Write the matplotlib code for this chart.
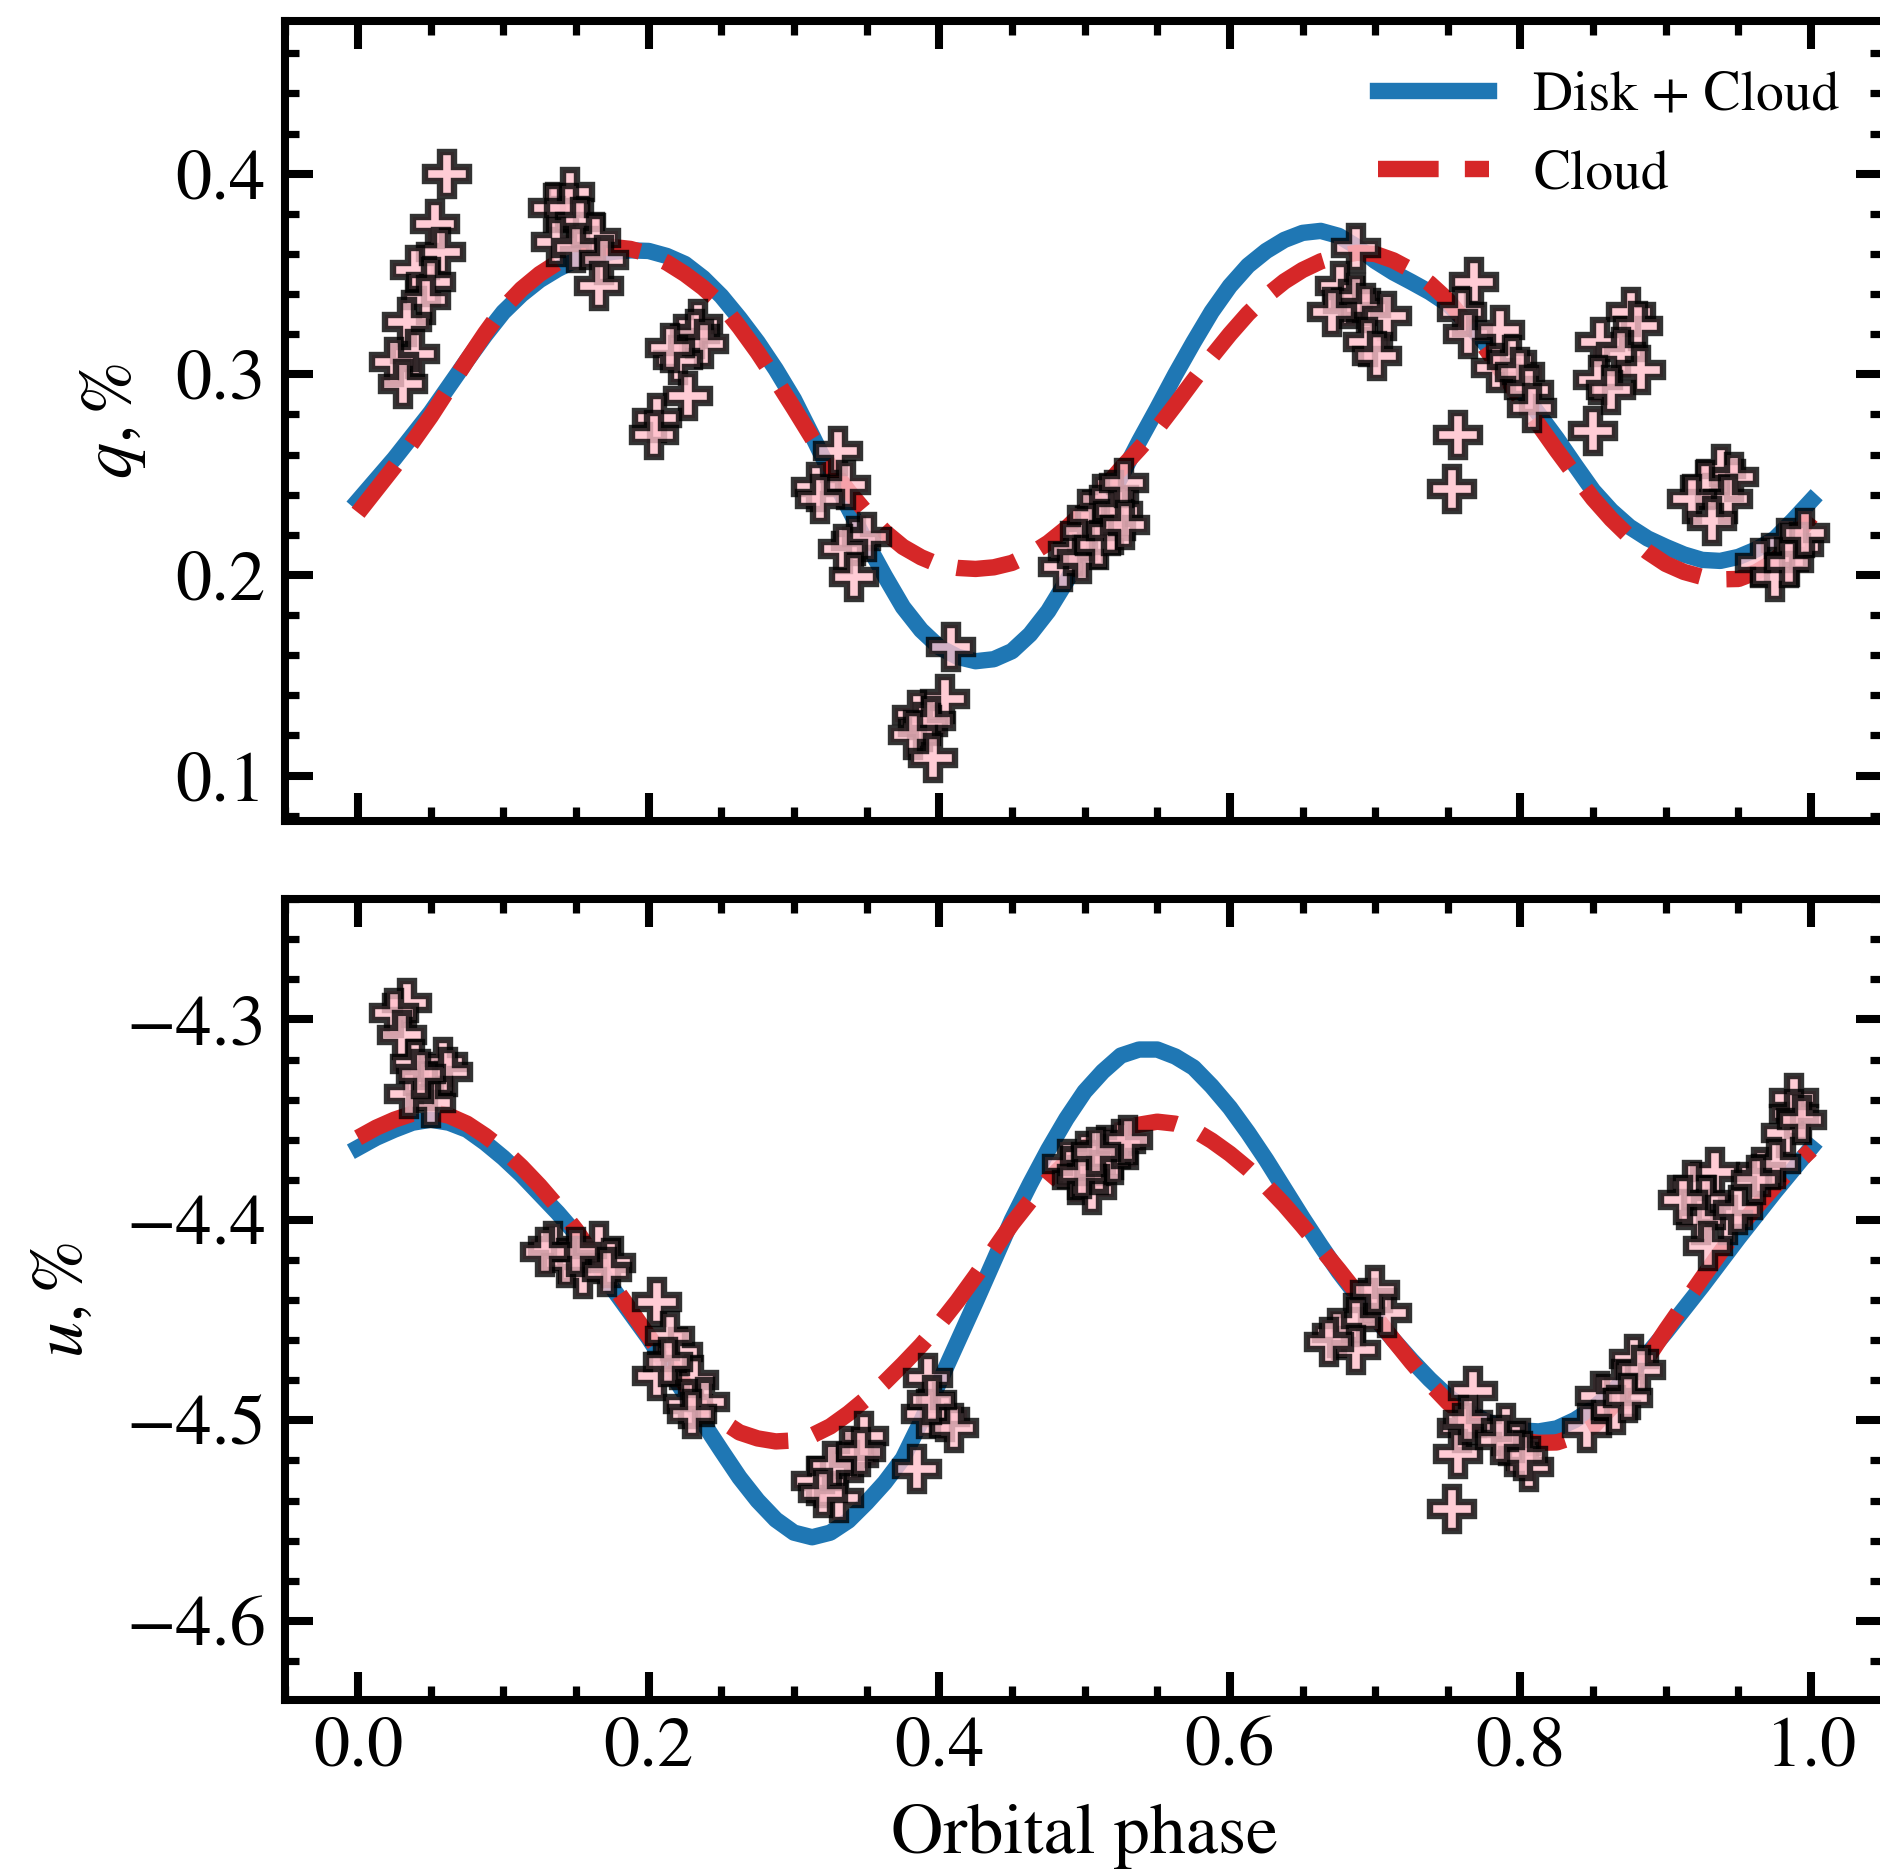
import matplotlib
matplotlib.use("Agg")
import matplotlib.pyplot as plt
from matplotlib.ticker import MultipleLocator

plt.rcParams['font.family'] = ['STIXGeneral', 'DejaVu Serif']
plt.rcParams['mathtext.fontset'] = 'stix'

# ---------------- data ----------------
model_phase = [0.0, 0.0125, 0.025, 0.0375, 0.05, 0.0625, 0.075, 0.0875, 0.1, 0.1125,
               0.125, 0.1375, 0.15, 0.1625, 0.175, 0.1875, 0.2, 0.2125, 0.225, 0.2375,
               0.25, 0.2625, 0.275, 0.2875, 0.3, 0.3125, 0.325, 0.3375, 0.35, 0.3625,
               0.375, 0.3875, 0.4, 0.4125, 0.425, 0.4375, 0.45, 0.4625, 0.475, 0.4875,
               0.5, 0.5125, 0.525, 0.5375, 0.55, 0.5625, 0.575, 0.5875, 0.6, 0.6125,
               0.625, 0.6375, 0.65, 0.6625, 0.675, 0.6875, 0.7, 0.7125, 0.725, 0.7375,
               0.75, 0.7625, 0.775, 0.7875, 0.8, 0.8125, 0.825, 0.8375, 0.85, 0.8625,
               0.875, 0.8875, 0.9, 0.9125, 0.925, 0.9375, 0.95, 0.9625, 0.975, 0.9875, 1.0]

q_disk_cloud = [0.237, 0.2475, 0.258, 0.2695, 0.281, 0.294, 0.307, 0.3195, 0.331, 0.3398,
                0.347, 0.3525, 0.357, 0.3595, 0.361, 0.3618, 0.3615, 0.359, 0.355, 0.348,
                0.339, 0.328, 0.316, 0.3025, 0.2875, 0.2695, 0.251, 0.2333, 0.216, 0.1995,
                0.184, 0.1725, 0.164, 0.1592, 0.157, 0.158, 0.162, 0.1704, 0.182, 0.1968,
                0.213, 0.231, 0.249, 0.2665, 0.283, 0.300, 0.316, 0.3312, 0.344, 0.3542,
                0.3615, 0.367, 0.3705, 0.3715, 0.369, 0.3635, 0.3565, 0.3508, 0.346, 0.341,
                0.335, 0.3262, 0.316, 0.3042, 0.292, 0.2802, 0.268, 0.2548, 0.242, 0.232,
                0.224, 0.2182, 0.214, 0.2102, 0.2075, 0.207, 0.209, 0.2128, 0.218, 0.2272, 0.237]

q_cloud = [0.231, 0.2425, 0.254, 0.2662, 0.279, 0.293, 0.307, 0.3205, 0.333, 0.3425,
           0.350, 0.3558, 0.360, 0.3627, 0.3635, 0.3625, 0.360, 0.3557, 0.350, 0.3432,
           0.335, 0.3235, 0.311, 0.2973, 0.283, 0.2683, 0.254, 0.2418, 0.231, 0.2215,
           0.214, 0.2088, 0.205, 0.2035, 0.203, 0.2038, 0.206, 0.2103, 0.216, 0.2233,
           0.232, 0.2425, 0.253, 0.2628, 0.273, 0.2848, 0.297, 0.3088, 0.320, 0.3303,
           0.339, 0.3463, 0.352, 0.3563, 0.359, 0.3606, 0.360, 0.3568, 0.352, 0.3453,
           0.337, 0.326, 0.314, 0.301, 0.2875, 0.2748, 0.262, 0.2498, 0.238, 0.2278,
           0.219, 0.2115, 0.2055, 0.2015, 0.199, 0.1978, 0.198, 0.2015, 0.207, 0.2173, 0.229]

u_disk_cloud = [-4.364, -4.359, -4.355, -4.3515, -4.350, -4.3515, -4.355, -4.3615, -4.369, -4.3775,
                -4.387, -4.3965, -4.407, -4.420, -4.434, -4.4465, -4.459, -4.473, -4.487, -4.5012,
                -4.515, -4.5285, -4.540, -4.5495, -4.556, -4.5583, -4.556, -4.550, -4.541, -4.531,
                -4.519, -4.5005, -4.481, -4.461, -4.441, -4.4205, -4.400, -4.382, -4.365, -4.3495,
                -4.336, -4.326, -4.318, -4.315, -4.315, -4.3185, -4.324, -4.3333, -4.344, -4.3565,
                -4.370, -4.3845, -4.399, -4.4128, -4.426, -4.4378, -4.449, -4.4598, -4.470, -4.4795,
                -4.488, -4.495, -4.500, -4.5035, -4.505, -4.5055, -4.504, -4.4998, -4.494, -4.4863,
                -4.477, -4.4668, -4.456, -4.4445, -4.433, -4.421, -4.409, -4.3975, -4.386, -4.375, -4.364]

u_cloud = [-4.359, -4.354, -4.350, -4.347, -4.346, -4.348, -4.352, -4.358, -4.365, -4.3735,
           -4.383, -4.3935, -4.405, -4.4185, -4.432, -4.445, -4.458, -4.4705, -4.482, -4.4925,
           -4.500, -4.506, -4.509, -4.5105, -4.510, -4.5075, -4.503, -4.4965, -4.489, -4.481,
           -4.472, -4.4625, -4.452, -4.4405, -4.428, -4.415, -4.402, -4.3905, -4.380, -4.3712,
           -4.364, -4.359, -4.355, -4.3525, -4.351, -4.352, -4.355, -4.3605, -4.367, -4.3745,
           -4.383, -4.3925, -4.403, -4.414, -4.425, -4.4365, -4.448, -4.4598, -4.471, -4.4815,
           -4.491, -4.4985, -4.504, -4.508, -4.510, -4.5112, -4.511, -4.508, -4.503, -4.4935,
           -4.482, -4.4687, -4.455, -4.442, -4.429, -4.4163, -4.404, -4.3933, -4.383, -4.3737, -4.365]

q_obs_phase = [0.061, 0.053, 0.057, 0.039, 0.050, 0.047, 0.034, 0.039, 0.025, 0.031,
               0.146, 0.134, 0.145, 0.153, 0.136, 0.164, 0.150, 0.169, 0.166,
               0.234, 0.232, 0.238, 0.220, 0.215, 0.227, 0.206, 0.204,
               0.330, 0.315, 0.336, 0.318, 0.343, 0.350, 0.334, 0.341,
               0.408, 0.404, 0.385, 0.389, 0.394, 0.382, 0.396,
               0.485, 0.492, 0.498, 0.500, 0.505, 0.510, 0.512, 0.518, 0.520, 0.523, 0.527, 0.528,
               0.687, 0.676, 0.681, 0.687, 0.694, 0.708, 0.670, 0.695, 0.701,
               0.768, 0.760, 0.764, 0.757, 0.753,
               0.786, 0.783, 0.794, 0.800, 0.806, 0.808,
               0.876, 0.881, 0.855, 0.869, 0.883, 0.853, 0.862, 0.850,
               0.938, 0.947, 0.927, 0.943, 0.918, 0.932,
               0.983, 0.992, 0.965, 0.975, 0.985, 0.996]

q_obs = [0.400, 0.375, 0.361, 0.352, 0.346, 0.337, 0.326, 0.310, 0.306, 0.295,
         0.391, 0.383, 0.383, 0.376, 0.366, 0.368, 0.363, 0.357, 0.344,
         0.325, 0.320, 0.315, 0.307, 0.313, 0.289, 0.278, 0.270,
         0.262, 0.244, 0.245, 0.238, 0.217, 0.219, 0.213, 0.199,
         0.164, 0.138, 0.130, 0.124, 0.127, 0.120, 0.109,
         0.204, 0.212, 0.208, 0.222, 0.230, 0.215, 0.238, 0.222, 0.240, 0.232, 0.246, 0.225,
         0.363, 0.344, 0.335, 0.338, 0.333, 0.329, 0.331, 0.316, 0.309,
         0.346, 0.331, 0.320, 0.270, 0.243,
         0.322, 0.303, 0.307, 0.301, 0.292, 0.283,
         0.331, 0.324, 0.316, 0.311, 0.302, 0.297, 0.292, 0.272,
         0.253, 0.249, 0.245, 0.238, 0.238, 0.227,
         0.216, 0.214, 0.206, 0.199, 0.206, 0.221]

u_obs_phase = [0.034, 0.025, 0.030, 0.039, 0.0585, 0.062, 0.048, 0.050, 0.035, 0.043,
               0.134, 0.155, 0.166, 0.174, 0.143, 0.150, 0.171, 0.129,
               0.206, 0.220, 0.231, 0.206, 0.227, 0.239, 0.215, 0.213, 0.230,
               0.315, 0.331, 0.341, 0.348, 0.326, 0.346, 0.320,
               0.392, 0.385, 0.404, 0.391, 0.410, 0.395,
               0.488, 0.495, 0.500, 0.505, 0.510, 0.515, 0.520, 0.525, 0.530, 0.498, 0.508,
               0.695, 0.708, 0.6865, 0.674, 0.6865, 0.700, 0.668,
               0.767, 0.760, 0.757, 0.753, 0.764,
               0.790, 0.797, 0.806, 0.802, 0.786,
               0.878, 0.855, 0.869, 0.846, 0.866, 0.883, 0.874,
               0.934, 0.918, 0.943, 0.928, 0.924, 0.929, 0.912, 0.950,
               0.9885, 0.9885, 0.983, 0.9656, 0.976, 0.962, 0.994]

u_obs = [-4.292, -4.297, -4.308, -4.322, -4.321, -4.326, -4.333, -4.3415, -4.337, -4.327,
         -4.413, -4.427, -4.413, -4.4217, -4.4217, -4.416, -4.426, -4.416,
         -4.441, -4.466, -4.480, -4.478, -4.492, -4.491, -4.458, -4.471, -4.497,
         -4.530, -4.5385, -4.519, -4.508, -4.523, -4.516, -4.536,
         -4.479, -4.5245, -4.4985, -4.497, -4.504, -4.490,
         -4.372, -4.380, -4.368, -4.385, -4.375, -4.365, -4.370, -4.362, -4.360, -4.377, -4.366,
         -4.4412, -4.4466, -4.4508, -4.4563, -4.465, -4.435, -4.461,
         -4.4855, -4.504, -4.517, -4.544, -4.500,
         -4.504, -4.5126, -4.5234, -4.518, -4.510,
         -4.4693, -4.4877, -4.482, -4.504, -4.495, -4.475, -4.489,
         -4.3762, -4.3827, -4.400, -4.390, -4.400, -4.413, -4.390, -4.395,
         -4.3394, -4.347, -4.3567, -4.376, -4.372, -4.380, -4.350]

# ---------------- figure ----------------
DPI = 200
fig = plt.figure(figsize=(1880 / DPI, 1876 / DPI), dpi=DPI)
ax_q = fig.add_axes([0.1518, 0.5622, 0.8502, 0.4268])
ax_u = fig.add_axes([0.1518, 0.0938, 0.8502, 0.4270])

BLUE = '#1f77b4'
RED = '#d62728'
LW = 5.9
FS = 26

def style(ax):
    for s in ax.spines.values():
        s.set_linewidth(2.9)
    ax.xaxis.set_major_locator(MultipleLocator(0.2))
    ax.xaxis.set_minor_locator(MultipleLocator(0.05))
    ax.yaxis.set_major_locator(MultipleLocator(0.1))
    ax.yaxis.set_minor_locator(MultipleLocator(0.02))
    ax.tick_params(which='both', direction='in', top=True, right=True,
                   labelsize=FS, width=2.9)
    ax.tick_params(which='major', length=10)
    ax.tick_params(which='minor', length=5, width=2.6)
    ax.tick_params(axis='y', which='major', pad=7)
    ax.tick_params(axis='x', which='major', pad=6)
    ax.set_xlim(-0.05, 1.05)

for ax, dc, cl, ph, ob in [(ax_q, q_disk_cloud, q_cloud, q_obs_phase, q_obs),
                           (ax_u, u_disk_cloud, u_cloud, u_obs_phase, u_obs)]:
    ax.plot(model_phase, dc, color=BLUE, lw=LW, label='Disk + Cloud', zorder=2)
    ax.plot(model_phase, cl, color=RED, lw=LW, ls='--', label='Cloud', zorder=3)
    ax.plot(ph, ob, ls='none', marker='P', ms=16, mfc='pink', mec='k', mew=2.3,
            alpha=0.8, zorder=4)
    style(ax)

ax_q.set_ylim(0.0772, 0.4763)
ax_u.set_ylim(-4.6395, -4.2399)
ax_q.tick_params(axis='x', labelbottom=False)

ax_q.set_ylabel(r'$q,\mathit{\%}$', fontsize=FS, labelpad=10)
ax_u.set_ylabel(r'$u,\mathit{\%}$', fontsize=FS, labelpad=10)
ax_u.set_xlabel('Orbital phase', fontsize=FS, labelpad=8)

ax_q.legend(loc='upper right', bbox_to_anchor=(1.0, 0.9925), frameon=False,
            fontsize=20, handlelength=2.0, borderaxespad=0.4)

fig.savefig('out.png', dpi=DPI)
